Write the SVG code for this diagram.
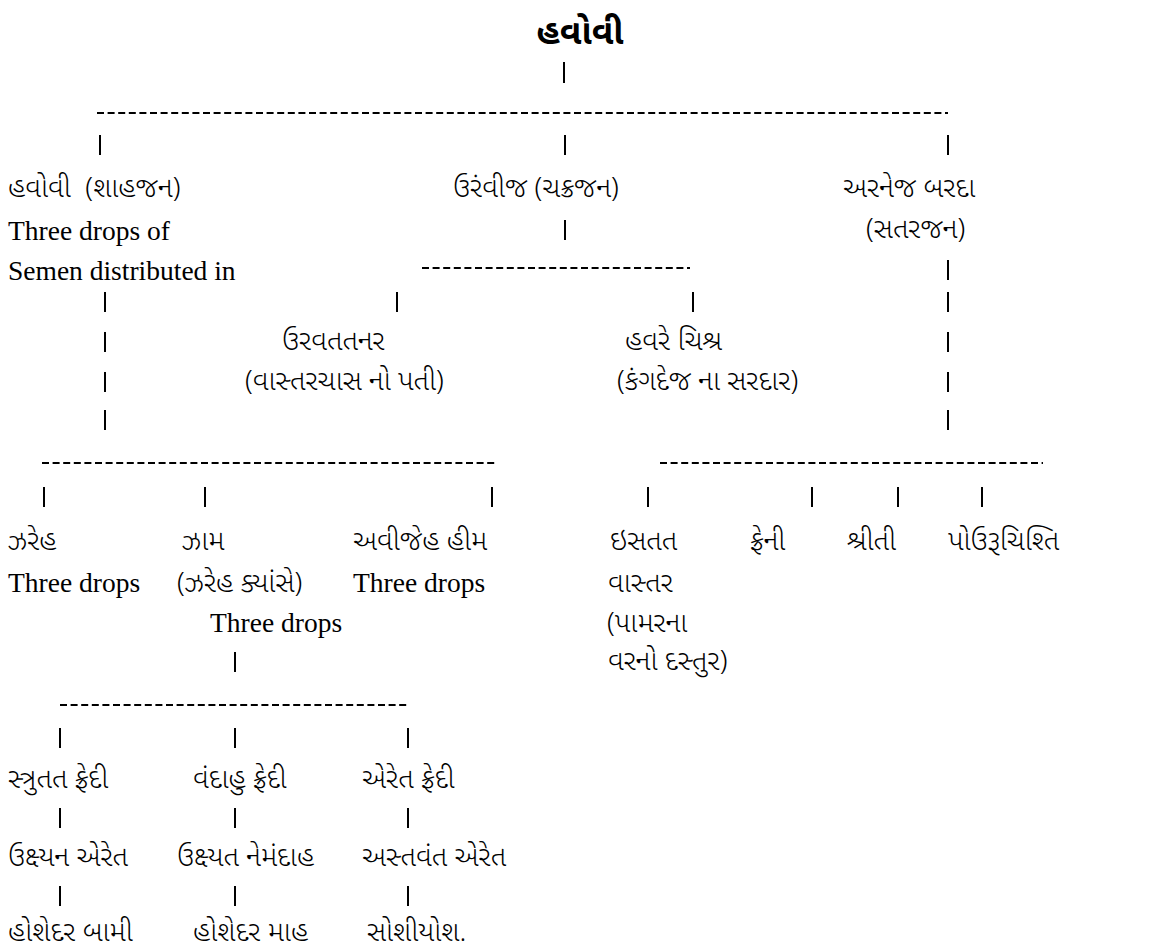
<svg xmlns="http://www.w3.org/2000/svg" width="1161" height="952" viewBox="0 0 1161 952">
<style>
text{fill:#000}
.g{font-family:"Noto Sans Gujarati","Lohit Gujarati","Noto Serif Gujarati","Noto Sans",sans-serif;font-size:28px;font-weight:300;white-space:pre}
.e{font-family:"Liberation Serif","Times New Roman",serif;font-size:27.5px}
.t{font-family:"Noto Sans Gujarati","Lohit Gujarati","Noto Sans",sans-serif;font-size:35px;font-weight:bold}
.p{stroke:#000;stroke-width:2;fill:none}
.d{stroke:#000;stroke-width:2;stroke-dasharray:7 3.6;fill:none}
</style>
<rect width="1161" height="952" fill="#fff"/>
<g id="connectors">
<path class="p" d="M564 62V83 M100 135V155 M565 135V155 M948 135V155 M565 220V240 M948 260V280 M105 292V312 M397 292V312 M693 292V312 M948 292V312 M105 332V352 M948 332V352 M105 372V392 M948 372V392 M105 410V430 M948 410V430 M44 487V507 M205 487V507 M492 487V507 M648 487V507 M812 487V507 M898 487V507 M982 487V507 M235 652V672 M60 728V748 M235 728V748 M408 728V748 M60 808V828 M235 808V828 M408 808V828 M60 886V906 M235 886V906 M408 886V906"/>
<path class="d" d="M97 113H948 M422 268H690 M42 463H497 M660 463H1043 M60 705H408"/>
</g>
<g id="root"><text class="t" x="580" y="44" text-anchor="middle">હવોવી</text></g>
<g id="n-havovi"><text class="g" x="8" y="197">હવોવી  (શાહજન)</text><text class="e" x="8" y="240">Three drops of</text><text class="e" x="8" y="280">Semen distributed in</text></g>
<g id="n-ourvij"><text class="g" x="453" y="197">ઉરંવીજ (ચક્રજન)</text></g>
<g id="n-arnej"><text class="g" x="843" y="197">અરનેજ બરદા</text><text class="g" x="866" y="238">(સતરજન)</text></g>
<g id="n-urvatatnar"><text class="g" x="282" y="350">ઉરવતતનર</text><text class="g" x="245" y="390">(વાસ્તરચાસ નો પતી)</text></g>
<g id="n-havre"><text class="g" x="625" y="350">હવરે ચિશ્ર</text><text class="g" x="617" y="390">(કંગદેજ ના સરદાર)</text></g>
<g id="n-zareh"><text class="g" x="8" y="550">ઝરેહ</text><text class="e" x="8" y="592">Three drops</text></g>
<g id="n-zam"><text class="g" x="182" y="550">ઝામ</text><text class="g" x="177" y="592">(ઝરેહ ક્યાંસે)</text><text class="e" x="210" y="632">Three drops</text></g>
<g id="n-avijeh"><text class="g" x="353" y="550">અવીજેહ હીમ</text><text class="e" x="353" y="592">Three drops</text></g>
<g id="n-isatat"><text class="g" x="610" y="550">ઇસતત</text><text class="g" x="608" y="592">વાસ્તર</text><text class="g" x="607" y="632">(પામરના</text><text class="g" x="608" y="670">વરનો દસ્તુર)</text></g>
<g id="n-freni"><text class="g" x="750" y="550">ફ્રેની</text></g>
<g id="n-thriti"><text class="g" x="847" y="550">શ્રીતી</text></g>
<g id="n-pouruchisti"><text class="g" x="948" y="550">પોઉરૂચિશ્તિ</text></g>
<g id="n-frasha1"><text class="g" x="8" y="788">સ્ત્રુતત ફ્રેદી</text></g>
<g id="n-frasha2"><text class="g" x="193" y="788">વંદાહુ ફ્રેદી</text></g>
<g id="n-frasha3"><text class="g" x="362" y="788">એરેત ફ્રેદી</text></g>
<g id="n-ukhshyan"><text class="g" x="8" y="866">ઉક્ષ્યન એરેત</text></g>
<g id="n-ukhshyat"><text class="g" x="177" y="866">ઉક્ષ્યત નેમંદાહ</text></g>
<g id="n-astvant"><text class="g" x="362" y="866">અસ્તવંત એરેત</text></g>
<g id="n-hoshedar1"><text class="g" x="8" y="941">હોશેદર બામી</text></g>
<g id="n-hoshedar2"><text class="g" x="193" y="941">હોશેદર માહ</text></g>
<g id="n-soshiyosh"><text class="g" x="367" y="941">સોશીયોશ.</text></g>
</svg>
